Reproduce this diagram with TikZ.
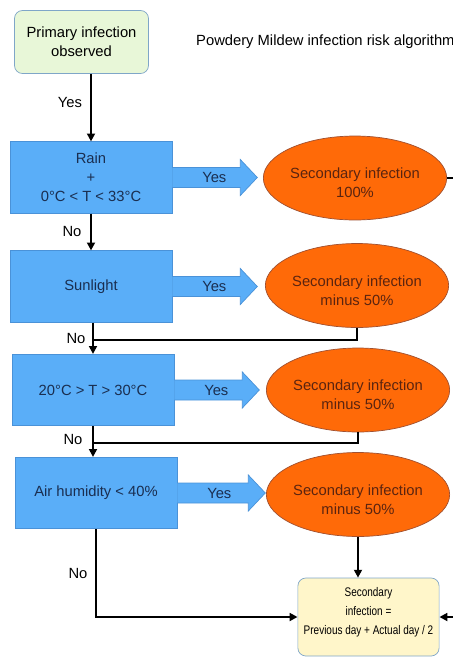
\documentclass[tikz,border=0pt]{standalone}
\usepackage{fontspec}
\setmainfont{Liberation Sans}
\newfontfamily\narrowfont[FakeStretch=0.8]{Liberation Sans}
\usetikzlibrary{arrows.meta,shapes.geometric}
\definecolor{boxblue}{HTML}{5AAEF8}
\definecolor{boxline}{HTML}{4A92D8}
\definecolor{boxtext}{HTML}{1A2E50}
\definecolor{infred}{HTML}{FF6A08}
\definecolor{infline}{HTML}{A05030}
\definecolor{inftext}{HTML}{5A2410}
\definecolor{startgreen}{HTML}{E8F7D8}
\definecolor{endyellow}{HTML}{FFF6CA}
\definecolor{roundline}{HTML}{7FA6C8}

\begin{document}
\begin{tikzpicture}[x=0.02cm,y=-0.02cm,
  txt/.style={font=\fontsize{8.4}{10.8}\selectfont},
  test/.style={txt,draw=boxline,fill=boxblue,text=boxtext,minimum width=3.24cm,minimum height=1.43cm,align=center},
  infect/.style={txt,ellipse,draw=infline,fill=infred,text=inftext,minimum width=3.1cm,minimum height=1.68cm,inner sep=0pt,align=center,text height=22.5pt},
  flow/.style={line width=1.1pt,-{Triangle[length=4.5pt,width=4.5pt]}},
  link/.style={line width=1.1pt}]
\useasboundingbox (0,0) rectangle (453,657);
\clip (0,0) rectangle (453,657);

% start and title
\node[txt,draw=roundline,fill=startgreen,rounded corners=4.5pt,minimum width=2.68cm,minimum height=1.26cm,align=center] (prim) at (81.5,42) {Primary infection\\observed};
\node[txt,anchor=west] (title) at (190,42) {Powdery Mildew infection risk algorithm};

% tests
\node[test] (rain) at (91,177.5) {Rain\\+\\0°C < T < 33°C};
\node[test] (sun) at (91,286.5) {Sunlight};
\node[test] (temp) at (93,390) {20°C > T > 30°C};
\node[test] (hum) at (96,493) {Air humidity < 40\%};

% block arrows with Yes
\foreach \b/\len in {rain/85,sun/85,temp/85,hum/88} {
  \path[fill=boxblue,draw=boxline] (\b.east) ++(0,-10) -- ++(\len-17,0) -- ++(0,-8)
    -- ++(17,18) -- ++(-17,18) -- ++(0,-8) -- ++(-\len+17,0);
  \node[txt,text=boxtext] (yes\b) at ([xshift=0.84cm]\b.east) {Yes};
}

% secondary infection
\node[infect] (e1) at (355,178) {Secondary infection\\100\%};
\node[infect] (e2) at (357,285.5) {Secondary infection\\minus 50\%};
\node[infect] (e3) at (358,390) {Secondary infection\\minus 50\%};
\node[infect] (e4) at (358,494.5) {Secondary infection\\minus 50\%};

\node[draw=roundline,fill=endyellow,rounded corners=4.5pt,minimum width=2.7cm,minimum height=1.56cm,align=center,text depth=7.2pt,
  font=\narrowfont\fontsize{7.1}{10.8}\selectfont] (fin) at (368.5,617) {Secondary\\infection =\\Previous day + Actual day / 2};

% connectors
\draw[flow] (prim.south -| rain.north) -- (rain.north);
\draw[flow] (rain.south) -- (sun.north);
\draw[flow] (sun.south -| temp.north) -- (temp.north);
\draw[flow] (temp.south) -- (temp.south |- hum.north);
\draw[flow] (hum.south) |- (fin.west);
\draw[flow] (e4.south) -- (e4.south |- fin.north);
\draw[flow] (e1.east) -- (470,178) |- (fin.east);
\coordinate (j1) at (temp.north |- 0,340);
\coordinate (j2) at (temp.south |- 0,443);
\draw[link] (e2.south) |- (j1);
\draw[link] (e3.south) |- (j2);

% labels
\node[txt] (lyes) at (70,102) {Yes};
\node[txt] (lno1) at (72,231) {No};
\node[txt] (lno2) at (76,338) {No};
\node[txt] (lno3) at (73,439) {No};
\node[txt] (lno4) at (78,573) {No};
\end{tikzpicture}
\end{document}
